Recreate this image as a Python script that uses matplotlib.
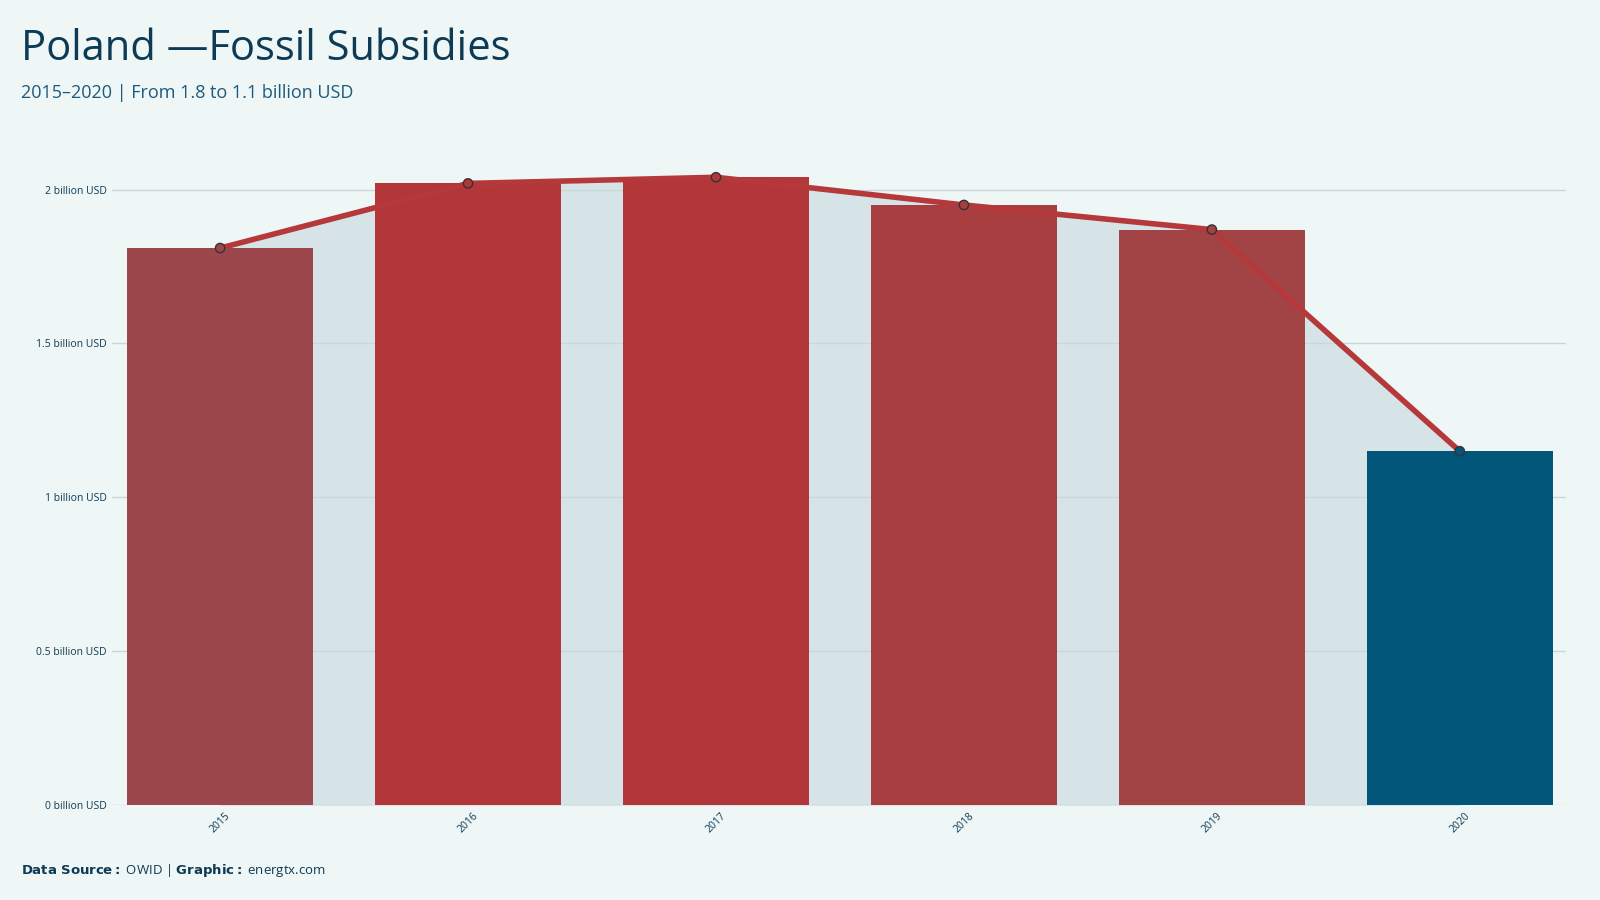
import matplotlib.pyplot as plt
import numpy as np

years = ["2015", "2016", "2017", "2018", "2019", "2020"]
values = [1.81, 2.02, 2.04, 1.95, 1.87, 1.15]
bar_colors = ["#9c474b", "#b33739", "#b33739", "#a93e40", "#a24345", "#02567a"]
ticks = [0, 0.5, 1, 1.5, 2]
tick_labels = ["0 billion USD", "0.5 billion USD", "1 billion USD", "1.5 billion USD", "2 billion USD"]

plt.rcParams["font.family"] = ["Open Sans", "DejaVu Sans"]
bg = "#eff6f6"
dark = "#0d3b55"

fig = plt.figure(figsize=(16, 9), dpi=100, facecolor=bg)
ax = fig.add_axes([0.070, 0.1054, 0.909, 0.725], facecolor=bg)

x = np.arange(len(years))
ax.fill_between(x, values, 0, color="#d6e4e8", zorder=1)
ax.bar(x, values, width=0.75, color=bar_colors, zorder=2)
ax.plot(x, values, color="#b5393b", lw=4, zorder=3)
ax.scatter(x, values, s=45, c=bar_colors, edgecolors="#333333", linewidths=1, zorder=4)

ax.set_xlim(-0.436, 5.43)
ax.set_ylim(0, 2.12)
ax.set_yticks(ticks)
ax.set_yticklabels(tick_labels, fontsize=7.5, color=dark)
ax.set_xticks(x)
ax.set_xticklabels(years, rotation=45, fontsize=7.5, color=dark)
ax.tick_params(length=0, pad=4)
ax.grid(axis="y", color="#c9d6da", lw=1, zorder=0)
for s in ax.spines.values():
    s.set_visible(False)

fig.text(0.013, 0.945, "Poland —Fossil Subsidies", fontsize=30, color="#0d3b55", va="center")
fig.text(0.013, 0.897, "2015–2020 | From 1.8 to 1.1 billion USD", fontsize=13, color="#1d5a7e", va="center")
fig.text(0.013, 0.033, r"$\bf{Data\ Source:}$ OWID | $\bf{Graphic:}$ energtx.com", fontsize=9.5, color=dark, va="center")

fig.savefig("out.png", facecolor=bg)
